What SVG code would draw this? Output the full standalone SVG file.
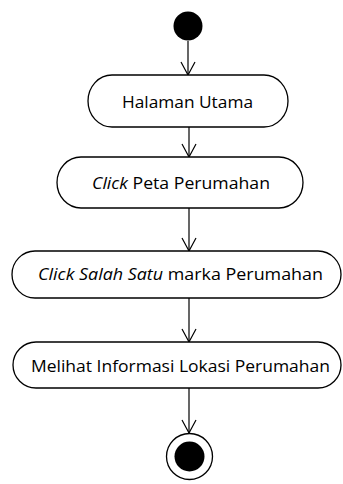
<svg xmlns="http://www.w3.org/2000/svg" width="343" height="484" viewBox="0 0 343 484">
<style>
.node{fill:#fff;stroke:#000;stroke-width:1.3}
.lbl{font-family:"Open Sans","Noto Sans",sans-serif;font-size:16.5px;fill:#000;text-anchor:start}
.it{font-style:italic}
.edge{stroke:#000;stroke-width:1.2;fill:none;marker-end:url(#open)}
</style>
<defs>
<marker id="open" markerUnits="userSpaceOnUse" markerWidth="16" markerHeight="16" refX="14" refY="8" orient="auto">
<path d="M1,1 L14,8 L1,15" fill="none" stroke="#000" stroke-width="1.2"/>
</marker>
</defs>
<rect width="343" height="484" fill="#fff"/>
<g id="edges">
<line class="edge" x1="188" y1="41" x2="188" y2="75"/>
<line class="edge" x1="189" y1="127" x2="189" y2="157"/>
<line class="edge" x1="189" y1="208" x2="189" y2="251"/>
<line class="edge" x1="189" y1="298" x2="189" y2="342"/>
<line class="edge" x1="189" y1="388" x2="189" y2="433"/>
</g>
<g id="start">
<circle cx="188" cy="26" r="14.5" fill="#000"/>
</g>
<g id="n1">
<rect class="node" x="88" y="75" width="200" height="52" rx="24" ry="26"/>
<text class="lbl" x="122" y="108" textLength="131" lengthAdjust="spacingAndGlyphs">Halaman Utama</text>
</g>
<g id="n2">
<rect class="node" x="57" y="157" width="246" height="51" rx="24" ry="25.5"/>
<text class="lbl" x="92" y="189" textLength="178" lengthAdjust="spacingAndGlyphs"><tspan class="it">Click</tspan> Peta Perumahan</text>
</g>
<g id="n3">
<rect class="node" x="12" y="251" width="329" height="47" rx="23" ry="23.5"/>
<text class="lbl" x="38" y="280" textLength="285" lengthAdjust="spacingAndGlyphs"><tspan class="it">Click Salah Satu</tspan> marka Perumahan</text>
</g>
<g id="n4">
<rect class="node" x="13" y="342" width="328" height="46" rx="23" ry="23"/>
<text class="lbl" x="31" y="372" textLength="299" lengthAdjust="spacingAndGlyphs">Melihat Informasi Lokasi Perumahan</text>
</g>
<g id="end">
<circle cx="189.5" cy="456.5" r="23" fill="#fff" stroke="#000" stroke-width="1.3"/>
<circle cx="189.5" cy="456.5" r="15" fill="#000"/>
</g>
</svg>
